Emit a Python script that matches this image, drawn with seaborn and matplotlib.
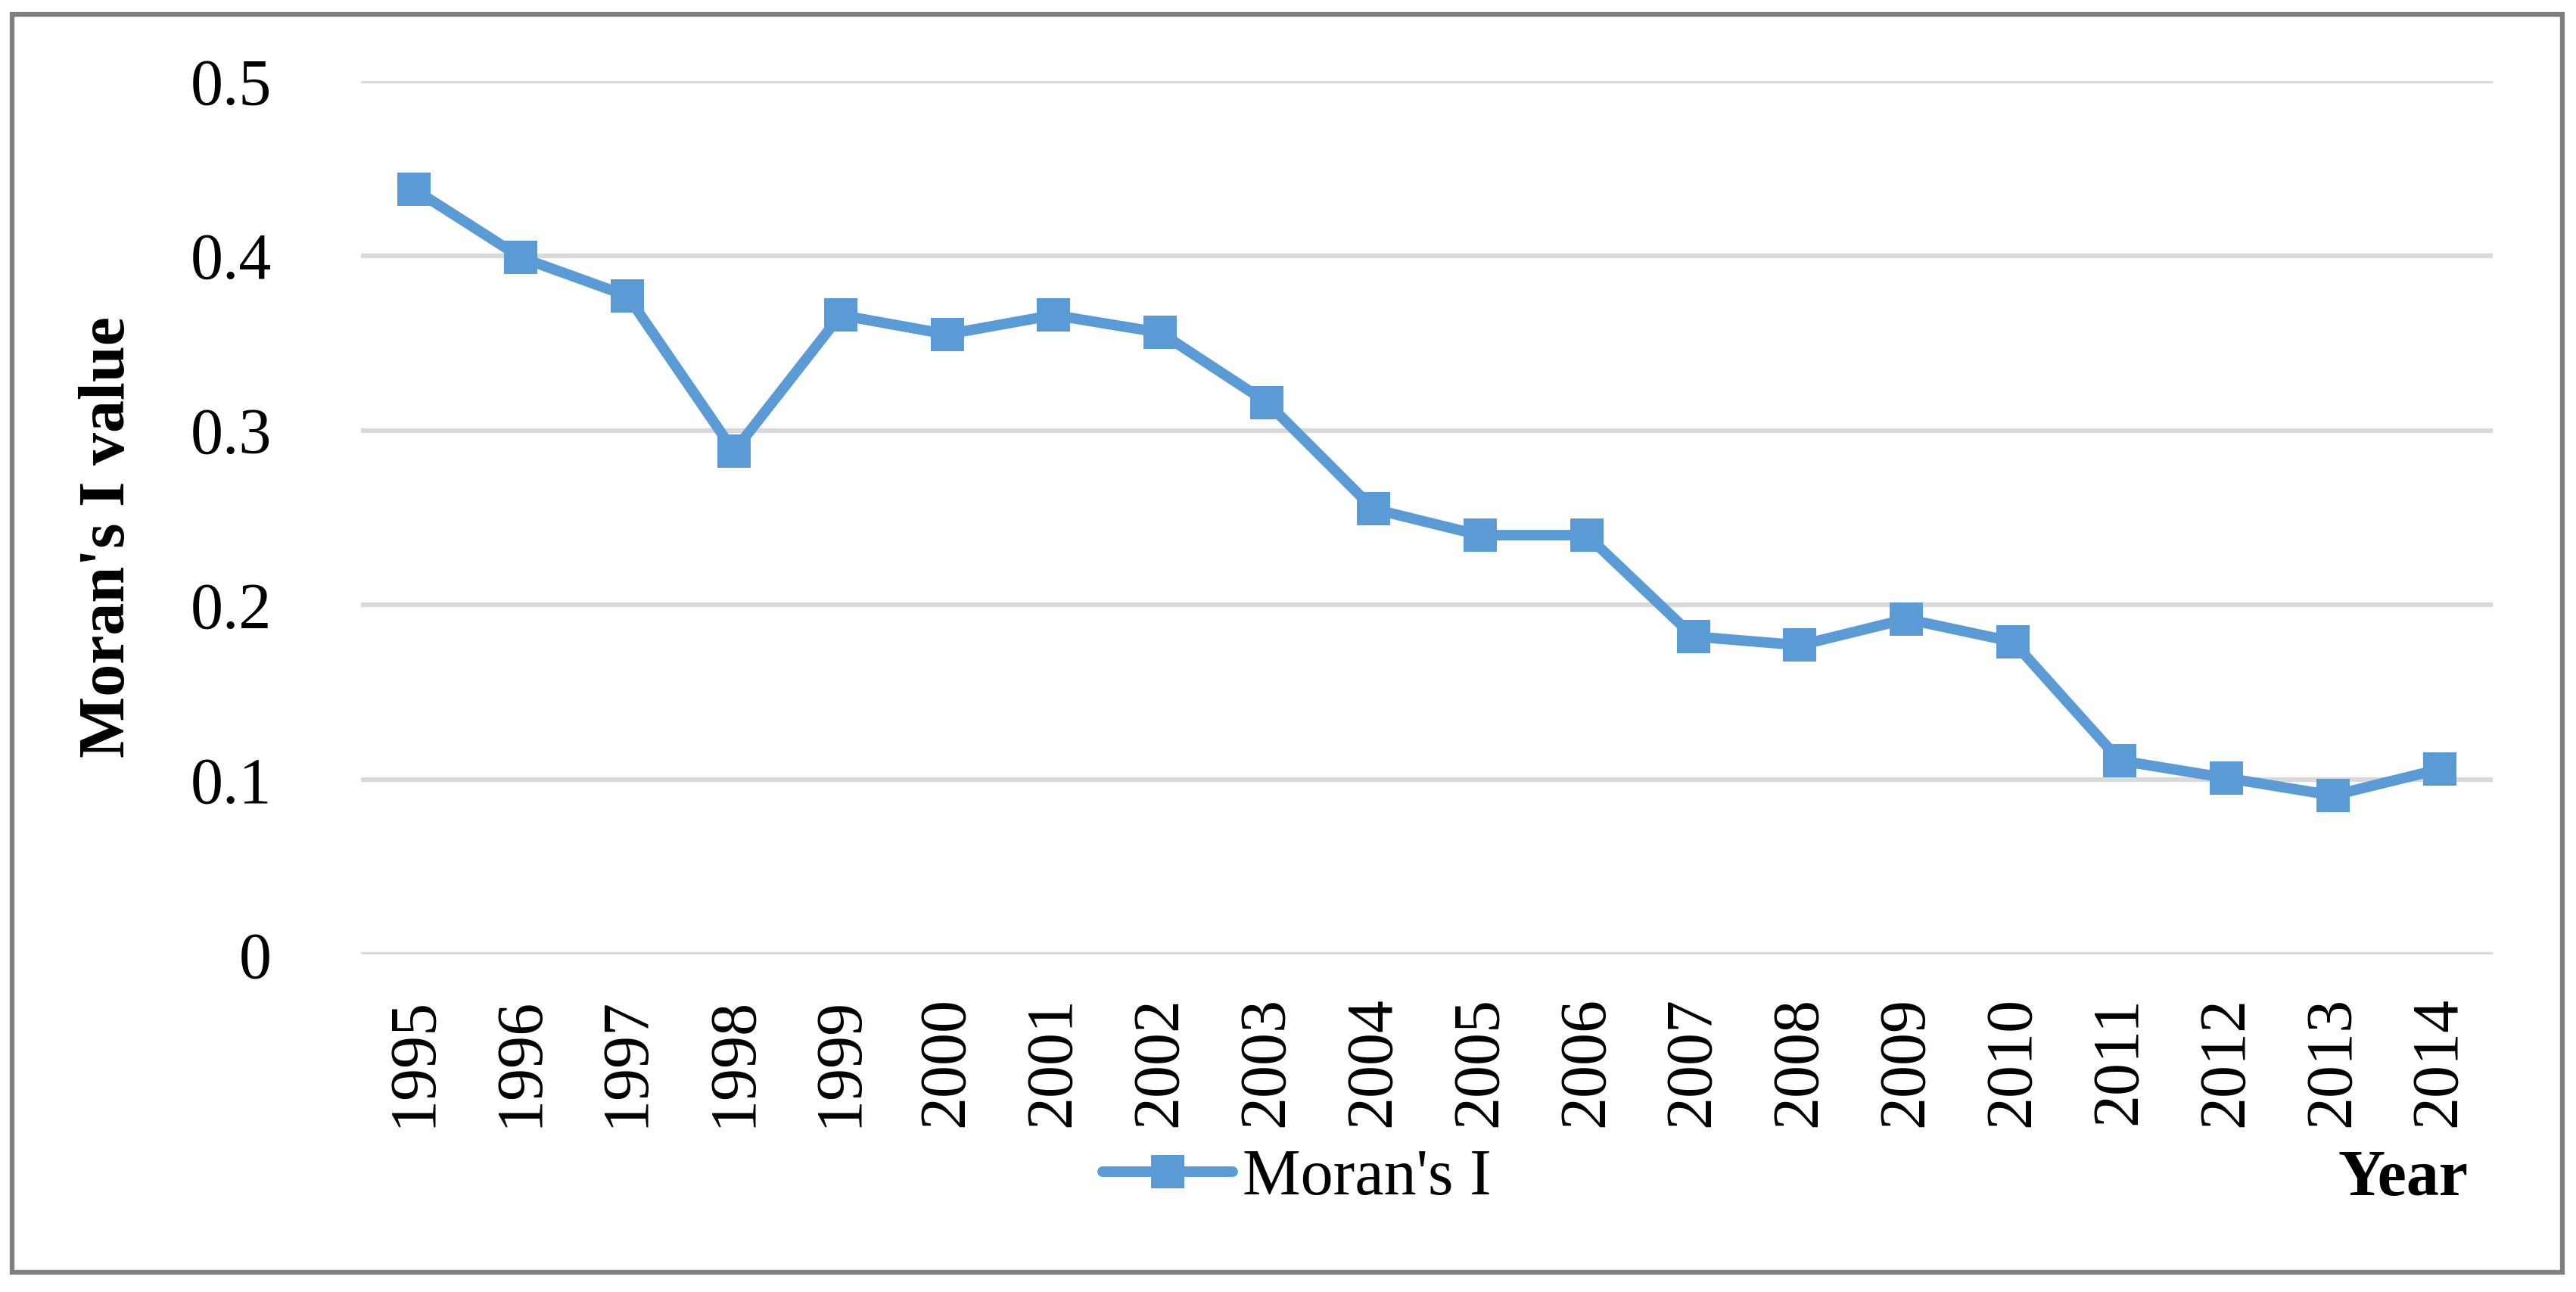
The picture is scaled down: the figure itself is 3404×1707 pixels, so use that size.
import pandas as pd
import seaborn as sns
import matplotlib.pyplot as plt
from matplotlib.patches import Rectangle

years = ["1995", "1996", "1997", "1998", "1999", "2000", "2001", "2002", "2003", "2004",
         "2005", "2006", "2007", "2008", "2009", "2010", "2011", "2012", "2013", "2014"]
morans_i = [0.438, 0.399, 0.377, 0.288, 0.366, 0.355, 0.366, 0.356, 0.316, 0.255,
            0.240, 0.240, 0.182, 0.177, 0.192, 0.179, 0.111, 0.101, 0.091, 0.106]
y_ticks = [0, 0.1, 0.2, 0.3, 0.4, 0.5]
y_tick_labels = ["0", "0.1", "0.2", "0.3", "0.4", "0.5"]

df = pd.DataFrame({"Year": years, "Moran's I": morans_i})

sns.set_style("white")
plt.rcParams['font.family'] = ['Liberation Serif', 'DejaVu Serif']
plt.rcParams['text.color'] = 'black'
plt.rcParams['axes.labelcolor'] = 'black'

blue = "#5B9BD5"

fig = plt.figure(figsize=(34.04, 17.07), dpi=100)
ax = fig.add_axes([0.1401, 0.2613, 0.8276, 0.6760])

sns.lineplot(data=df, x="Year", y="Moran's I", ax=ax, color=blue,
             linewidth=10, marker="s", markersize=31, markeredgewidth=0,
             label="Moran's I", sort=False)

ax.set_xlim(-0.5, len(years) - 0.5)
ax.set_ylim(0, 0.5)
ax.set_yticks(y_ticks)
ax.set_yticklabels(y_tick_labels)
ax.set_xticks(range(len(years)))
ax.set_xticklabels(years, rotation=90)
ax.tick_params(axis="both", labelsize=62, length=0, colors="black")
ax.tick_params(axis="y", pad=85)
ax.tick_params(axis="x", pad=40)

# light grey horizontal gridlines only
ax.grid(axis="y", color="#D9D9D9", linewidth=4.5)
ax.grid(axis="x", visible=False)
ax.set_axisbelow(True)
for s in ax.spines.values():
    s.set_visible(False)

ax.set_xlabel("")
ax.set_ylabel("Moran's I value", fontsize=62, fontweight="bold", labelpad=49)
ax.yaxis.label.set_y(0.4775)

leg = ax.legend(loc="center", bbox_to_anchor=(0.5035, 0.0877), bbox_transform=fig.transFigure,
                frameon=False, fontsize=62, handlelength=2.0, handletextpad=0.15)
for t in leg.get_texts():
    t.set_color("black")

fig.text(0.958, 0.087, "Year", fontsize=62, fontweight="bold", ha="right", va="center",
         color="black")

# grey frame around the whole chart
fig.patches.append(Rectangle((0.0047, 0.0152), 0.99, 0.9737, transform=fig.transFigure,
                             fill=False, edgecolor="#7F7F7F", linewidth=4.5))

fig.savefig("out.png", dpi=100)
